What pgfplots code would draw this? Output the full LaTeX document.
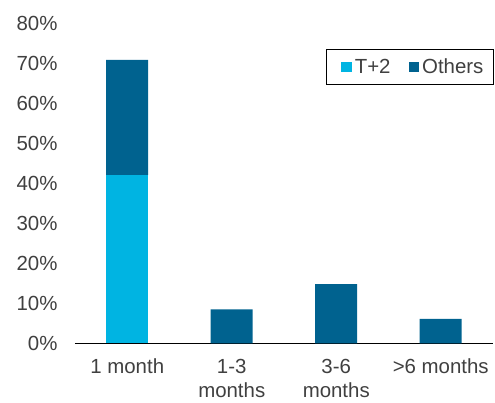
\documentclass[border=0pt]{standalone}
\usepackage{pgfplots}
\pgfplotsset{compat=1.18}
\usepackage{fontspec}
\setmainfont{Liberation Sans}
\definecolor{tplus}{RGB}{0,180,226}
\definecolor{others}{RGB}{0,98,143}
\definecolor{txt}{RGB}{64,64,64}
\begin{document}
\begin{tikzpicture}
\begin{axis}[
  at={(0,0)}, anchor=south west,
  scale only axis,
  width=418bp, height=320.3bp,
  ybar stacked,
  bar width=42bp,
  xmin=-0.5, xmax=3.5,
  ymin=0, ymax=80,
  ytick={0,10,...,80},
  yticklabel={\pgfmathprintnumber{\tick}\%},
  xtick={0,1,2,3},
  xticklabels={1 month,1-3\\months,3-6\\months,>6 months},
  major tick length=0pt,
  axis x line*=bottom, axis y line*=left,
  x axis line style={-, draw=black, line width=0.8pt},
  y axis line style={draw=none},
  tick label style={font=\fontsize{20.5}{24.5}\selectfont, text=txt},
  xticklabel style={align=center, anchor=north, yshift=-12bp},
  yticklabel style={anchor=east, xshift=-14bp},
  /pgf/number format/assume math mode=true,
  legend columns=2,
  legend style={at={(1.002,0.918)}, anchor=north east, draw=black, line width=0.8pt,
    font=\fontsize{20.5}{24}\selectfont, text=txt, inner xsep=7bp, inner ysep=8bp,
    nodes={inner xsep=3bp, inner ysep=1bp},
    /tikz/every even column/.append style={column sep=7bp}},
  legend image code/.code={\path (0bp,0bp); \fill[#1] (8bp,-5.3bp) rectangle (18.6bp,5.3bp);},
]
\addplot[fill=tplus, draw=none] coordinates {(0,42.0) (1,0) (2,0) (3,0)};
\addplot[fill=others, draw=none] coordinates {(0,28.8) (1,8.5) (2,14.8) (3,6.1)};
\legend{T+2,Others}
\end{axis}
\pgfresetboundingbox
\path[use as bounding box] (-75bp,-59.7bp) rectangle (420bp,343.3bp);
\end{tikzpicture}
\end{document}
